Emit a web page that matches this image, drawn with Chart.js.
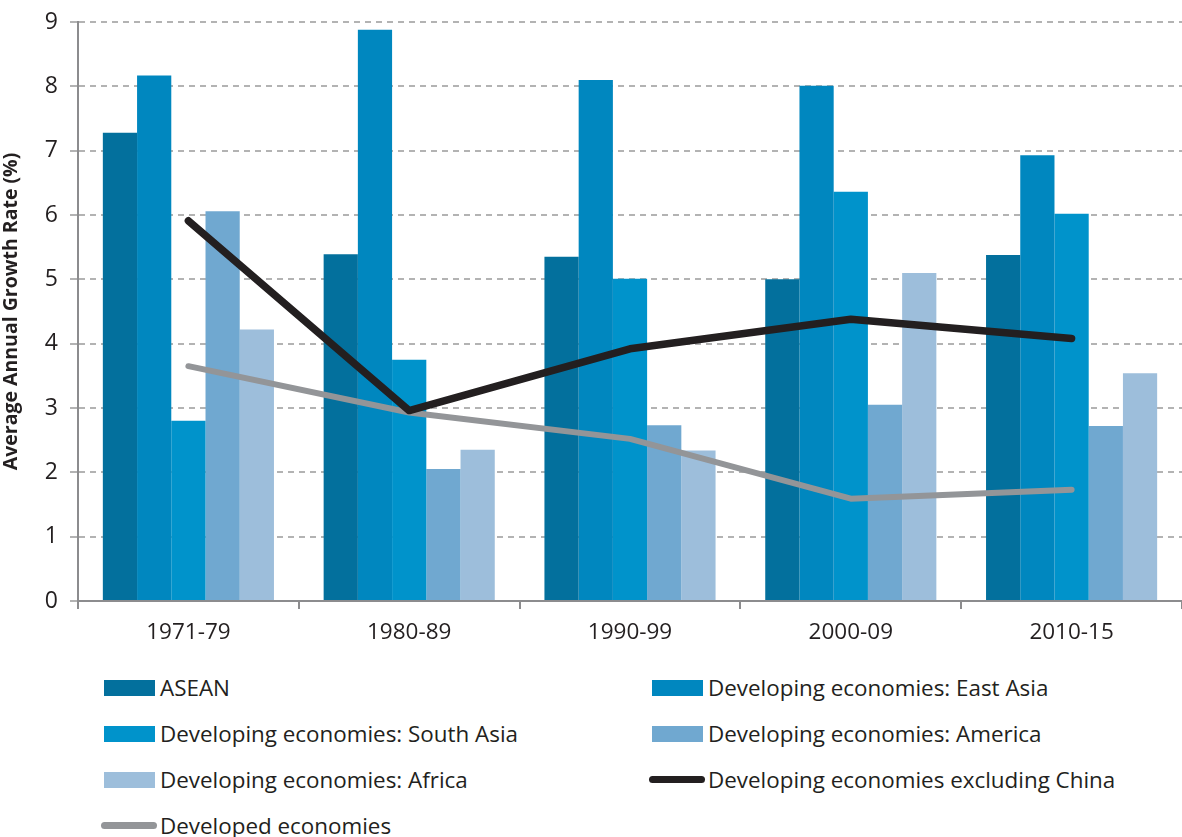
<!DOCTYPE html>
<html>
<head>
<meta charset="utf-8">
<script src="https://cdn.jsdelivr.net/npm/chart.js@4"></script>
<style>
  body { margin: 0; background: #fff; font-family: "Open Sans", sans-serif; }
  #wrap { position: absolute; left: 0; top: 0; width: 1182px; height: 660px; }
  #legend { position: absolute; left: 0; top: 672px; width: 1182px; }
  .item { position: absolute; display: flex; align-items: center; font-size: 22.4px; color: #231f20; white-space: nowrap; }
  .swatch { width: 51px; height: 16px; margin-right: 5px; }
  .lineswatch { width: 56px; height: 7px; border-radius: 4px; margin-left: -3px; margin-right: 3px; }
</style>
</head>
<body>
<div id="wrap"><canvas id="growthChart"></canvas></div>
<div id="legend"></div>
<script>
// Periods on the x-axis
const periods = ['1971-79', '1980-89', '1990-99', '2000-09', '2010-15'];

// Bar series (average annual growth, %)
const asean = [7.28, 5.39, 5.35, 5.00, 5.38];
const eastAsia = [8.17, 8.88, 8.10, 8.01, 6.93];
const southAsia = [2.80, 3.75, 5.01, 6.36, 6.02];
const america = [6.06, 2.05, 2.73, 3.05, 2.72];
const africa = [4.22, 2.35, 2.34, 5.10, 3.54];

// Line series
const devExChina = [5.91, 2.96, 3.92, 4.38, 4.08];
const developed = [3.65, 2.93, 2.52, 1.59, 1.73];

// Y-axis ticks
const yTicks = [0, 1, 2, 3, 4, 5, 6, 7, 8, 9];

const textColor = '#231f20';

const barSeries = [
    { label: 'ASEAN', data: asean, color: '#03709d' },
    { label: 'Developing economies: East Asia', data: eastAsia, color: '#0087bf' },
    { label: 'Developing economies: South Asia', data: southAsia, color: '#0093cb' },
    { label: 'Developing economies: America', data: america, color: '#70a8d0' },
    { label: 'Developing economies: Africa', data: africa, color: '#9dbedb' }
];
const lineSeries = [
    { label: 'Developing economies excluding China', data: devExChina, color: '#231f20', width: 7.5 },
    { label: 'Developed economies', data: developed, color: '#939598', width: 6 }
];

const datasets = [];
lineSeries.forEach(s => datasets.push({
    type: 'line',
    label: s.label,
    data: s.data,
    borderColor: s.color,
    backgroundColor: s.color,
    borderWidth: s.width,
    borderCapStyle: 'round',
    borderJoinStyle: 'round',
    pointRadius: 0,
    tension: 0,
    order: 0
}));
barSeries.forEach(s => datasets.push({
    type: 'bar',
    label: s.label,
    data: s.data,
    backgroundColor: s.color,
    borderWidth: 0,
    barPercentage: 1.0,
    categoryPercentage: 0.775,
    order: 1
}));

const ctx = document.getElementById('growthChart').getContext('2d');
const growthChart = new Chart(ctx, {
    data: { labels: periods, datasets: datasets },
    options: {
        responsive: true,
        maintainAspectRatio: false,
        animation: false,
        layout: { padding: { top: 22, right: 0, left: 0, bottom: 0 } },
        plugins: {
            legend: { display: false },
            tooltip: { enabled: false }
        },
        scales: {
            x: {
                offset: true,
                grid: {
                    offset: true,
                    drawOnChartArea: false,
                    drawTicks: true,
                    tickLength: 8,
                    color: '#8c8c8e',
                    lineWidth: 2
                },
                border: { color: '#8c8c8e', width: 2 },
                ticks: { color: textColor, font: { family: 'Open Sans', size: 22.5 }, padding: 10 },
                afterFit: scale => { scale.height = 59; }
            },
            y: {
                min: 0,
                max: 9,
                afterBuildTicks: scale => { scale.ticks = yTicks.map(v => ({ value: v })); },
                grid: {
                    color: '#b3b3b3',
                    lineWidth: 2,
                    tickLength: 8,
                    drawTicks: true
                },
                // in v4 border.dash dashes the grid lines, the axis line stays solid
                border: { color: '#8c8c8e', width: 2, dash: [6, 5] },
                ticks: { color: textColor, font: { family: 'Open Sans', size: 23 }, padding: 12 },
                title: {
                    display: true,
                    text: 'Average Annual Growth Rate (%)',
                    color: textColor,
                    font: { family: 'Open Sans', size: 19.5, weight: 'bold' },
                    padding: { top: 0, bottom: 0 }
                },
                afterFit: scale => {
                    scale.width = 78;
                    scale.paddingTop = 0;
                    scale.paddingBottom = 0;
                }
            }
        }
    }
});

// Custom two-column legend
const legendItems = [
    { label: barSeries[0].label, color: barSeries[0].color, line: false },
    { label: barSeries[1].label, color: barSeries[1].color, line: false },
    { label: barSeries[2].label, color: barSeries[2].color, line: false },
    { label: barSeries[3].label, color: barSeries[3].color, line: false },
    { label: barSeries[4].label, color: barSeries[4].color, line: false },
    { label: lineSeries[0].label, color: lineSeries[0].color, line: true },
    { label: lineSeries[1].label, color: lineSeries[1].color, line: true }
];
const legend = document.getElementById('legend');
legendItems.forEach((it, i) => {
    const el = document.createElement('div');
    el.className = 'item';
    el.style.left = (i % 2 === 0 ? 104 : 652) + 'px';
    el.style.top = (Math.floor(i / 2) * 46) + 'px';
    const sw = document.createElement('span');
    sw.className = it.line ? 'lineswatch' : 'swatch';
    sw.style.background = it.color;
    const tx = document.createElement('span');
    tx.textContent = it.label;
    el.appendChild(sw);
    el.appendChild(tx);
    legend.appendChild(el);
});
</script>
</body>
</html>
